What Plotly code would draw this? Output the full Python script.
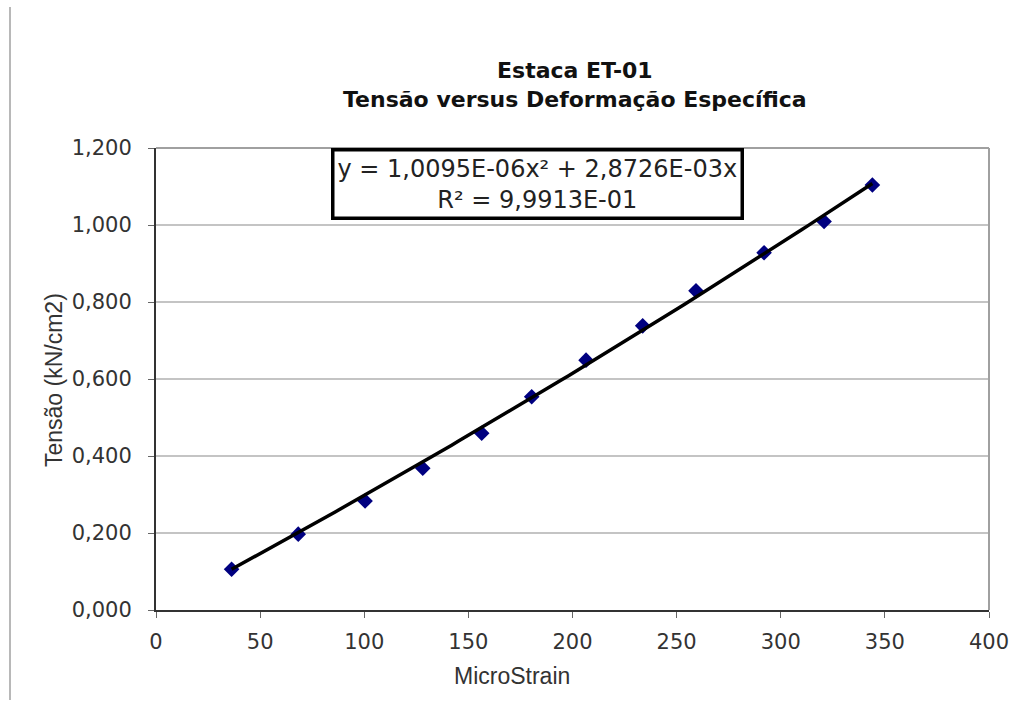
import numpy as np
import plotly.graph_objects as go

# Data
micro_strain = [36.3, 68.3, 100.4, 128.1, 156.4, 180.4, 206.5, 233.7, 259.3, 292.0, 320.8, 344.0]
tensao = [0.106, 0.197, 0.283, 0.368, 0.459, 0.554, 0.649, 0.738, 0.829, 0.928, 1.009, 1.104]

# Trendline coefficients as displayed in the chart
coef_a = 1.0095e-06
coef_b = 2.8726e-03
equation_text = "y = 1,0095E-06x² + 2,8726E-03x<br>R² = 9,9913E-01"

x_ticks = [0, 50, 100, 150, 200, 250, 300, 350, 400]
y_ticks = [0.0, 0.2, 0.4, 0.6, 0.8, 1.0, 1.2]
y_tick_labels = ["0,000", "0,200", "0,400", "0,600", "0,800", "1,000", "1,200"]

title_lines = ["Estaca ET-01", "Tensão versus Deformação Específica"]
x_title = "MicroStrain"
y_title = "Tensão (kN/cm2)"

xs = np.linspace(min(micro_strain), max(micro_strain), 100)
ys = coef_a * xs ** 2 + coef_b * xs

fig = go.Figure()
fig.add_trace(go.Scatter(
    x=micro_strain, y=tensao, mode="markers",
    marker=dict(symbol="diamond", size=12, color="#000080"),
    showlegend=False,
))
fig.add_trace(go.Scatter(
    x=xs, y=ys, mode="lines",
    line=dict(color="black", width=3.5),
    showlegend=False,
))

font_main = "DejaVu Sans, Verdana, sans-serif"
font_axis = "Liberation Sans, Tahoma, sans-serif"

# plot area in page px: x 156..989, y 148..610 (body margin removed)
PX0, PX1, PY0, PY1 = 156, 989, 148, 610


def px(xp):
    return (xp - PX0) / (PX1 - PX0)


def py(yp):
    return (PY1 - yp) / (PY1 - PY0)


fig.update_layout(
    width=1014, height=706,
    margin=dict(l=PX0, r=1014 - PX1, t=PY0, b=706 - PY1, autoexpand=False),
    paper_bgcolor="white", plot_bgcolor="white",
    font=dict(family=font_main, size=14, color="#333333"),
    xaxis=dict(
        range=[0, 400], tickvals=x_ticks, ticktext=[str(v) for v in x_ticks],
        showgrid=False, zeroline=False, automargin=False,
        showline=True, linecolor="#333333", linewidth=2,
        ticks="outside", ticklen=6, tickcolor="#666666", tickwidth=1,
        ticklabelstandoff=6, ticklabeloverflow="allow",
        tickfont=dict(family=font_main, size=21, color="#333333"),
    ),
    yaxis=dict(
        range=[0, 1.2], tickvals=y_ticks, ticktext=y_tick_labels,
        showgrid=True, gridcolor="#c4c4c4", gridwidth=2, zeroline=False,
        automargin=False,
        showline=True, linecolor="#333333", linewidth=2,
        ticks="outside", ticklen=6, tickcolor="#666666", tickwidth=1,
        ticklabelstandoff=12,
        tickfont=dict(family=font_main, size=21, color="#333333"),
    ),
    shapes=[
        dict(type="line", xref="paper", yref="paper", x0=0, x1=1, y0=1, y1=1,
             line=dict(color="#a0a0a0", width=2)),
        dict(type="line", xref="paper", yref="paper", x0=1, x1=1, y0=0, y1=1,
             line=dict(color="#a0a0a0", width=2)),
        dict(type="line", xref="paper", yref="paper",
             x0=px(10), x1=px(10), y0=py(700), y1=py(7),
             line=dict(color="#b8b8b8", width=2)),
    ],
    annotations=[
        dict(
            text="<b>" + title_lines[0] + "<br>" + title_lines[1] + "</b>",
            xref="paper", yref="paper", x=px(575), y=py(85),
            xanchor="center", yanchor="middle", showarrow=False,
            font=dict(family=font_main, size=22, color="#111111"),
        ),
        dict(
            text=x_title, xref="paper", yref="paper", x=px(512), y=py(676),
            xanchor="center", yanchor="middle", showarrow=False,
            font=dict(family=font_axis, size=23, color="#333333"),
        ),
        dict(
            text=y_title, xref="paper", yref="paper", x=px(54), y=py(380),
            xanchor="center", yanchor="middle", showarrow=False, textangle=-90,
            font=dict(family=font_axis, size=23, color="#333333"),
        ),
        dict(
            text=equation_text, xref="paper", yref="paper",
            x=px(537.5), y=py(184),
            xanchor="center", yanchor="middle", showarrow=False,
            font=dict(family=font_main, size=24, color="#222222"),
            bordercolor="black", borderwidth=3.5, borderpad=3,
            bgcolor="white", align="center",
        ),
    ],
)

fig.write_html(
    "out.html",
    config={"displayModeBar": False},
    post_script="document.body.style.margin='0';document.body.style.overflow='hidden';",
)
